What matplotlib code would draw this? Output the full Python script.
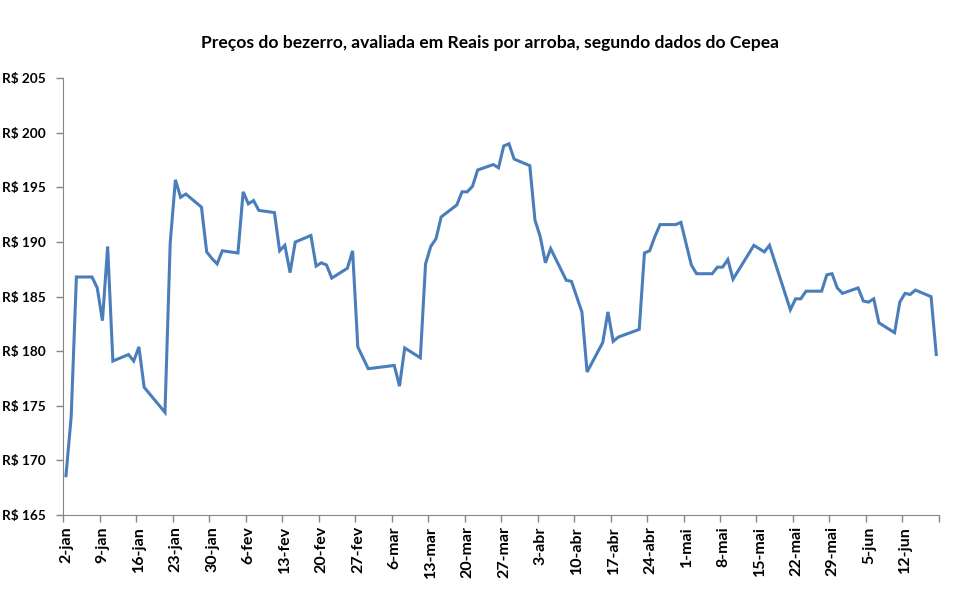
import numpy as np
import pandas as pd
import matplotlib
matplotlib.use("Agg")
import matplotlib.pyplot as plt
import matplotlib.dates as mdates
from matplotlib.transforms import ScaledTranslation

plt.rcParams['font.family'] = ['Lato', 'DejaVu Sans']

# dias corridos a partir de 2-jan
dias = [0, 1, 2, 5, 6, 7, 8, 9, 12, 13, 14, 15, 19, 20, 21, 22, 23, 26, 27, 28,
        29, 30, 33, 34, 35, 36, 37, 40, 41, 42, 43, 44, 47, 48, 49, 50, 51, 54, 55, 56,
        58, 63, 64, 65, 68, 69, 70, 71, 72, 75, 76, 77, 78, 79, 82, 83, 84, 85, 86, 89,
        90, 91, 92, 93, 96, 97, 99, 100, 103, 104, 105, 106, 110, 111, 112, 113, 114, 117, 118, 120,
        121, 124, 125, 126, 127, 128, 132, 134, 135, 139, 140, 141, 142, 145, 146, 147, 148, 149, 152, 153,
        154, 155, 156, 159, 160, 161, 162, 163, 166, 167]
precos = [168.6, 174.0, 186.8, 186.8, 185.8, 182.8, 189.6, 179.1, 179.7, 179.1, 180.4, 176.7, 174.4, 189.9, 195.7, 194.1, 194.4, 193.2, 189.1, 188.5,
          188.0, 189.2, 189.0, 194.6, 193.5, 193.8, 192.9, 192.7, 189.2, 189.7, 187.2, 190.0, 190.6, 187.8, 188.1, 187.9, 186.7, 187.6, 189.2, 180.4,
          178.4, 178.7, 176.8, 180.3, 179.4, 188.0, 189.6, 190.3, 192.3, 193.4, 194.6, 194.6, 195.1, 196.6, 197.1, 196.8, 198.8, 199.0, 197.6, 197.0,
          192.0, 190.5, 188.1, 189.4, 186.5, 186.4, 183.6, 178.1, 180.8, 183.6, 180.9, 181.3, 182.0, 189.0, 189.2, 190.5, 191.6, 191.6, 191.8, 187.9,
          187.1, 187.1, 187.7, 187.7, 188.4, 186.6, 189.7, 189.1, 189.7, 183.8, 184.8, 184.8, 185.5, 185.5, 187.0, 187.1, 185.8, 185.3, 185.8, 184.6,
          184.5, 184.8, 182.6, 181.7, 184.5, 185.3, 185.2, 185.6, 185.0, 179.7]

inicio = pd.Timestamp("2013-01-02")
fim = pd.Timestamp("2013-06-19")
datas = inicio + pd.to_timedelta(dias, unit="D")
ticks = pd.date_range(inicio, fim, freq="7D")
meses = {1: "jan", 2: "fev", 3: "mar", 4: "abr", 5: "mai", 6: "jun"}
rotulos = [f"{d.day}-{meses[d.month]}" for d in ticks[:-1]] + [""]

fig = plt.figure(figsize=(9.6, 5.93), dpi=100)
ax = fig.add_axes([0.066, 0.1315, 0.912, 0.7365])

# pontos no meio do dia, como no Excel
x = mdates.date2num(datas) + 0.5
ax.plot(x, precos, color="#4A7EBB", linewidth=2.2, solid_joinstyle="miter")

ax.set_xlim(mdates.date2num(inicio), mdates.date2num(fim))
ax.set_ylim(165, 205)
ax.set_yticks(np.arange(165, 206, 5))
ax.set_yticklabels([f"R$ {v}" for v in range(165, 206, 5)], fontweight="bold", fontsize=9.8)
ax.set_xticks(mdates.date2num(ticks))
ax.set_xticklabels(rotulos, rotation=90, fontweight="bold", fontsize=11.5)

for lado in ["top", "right"]:
    ax.spines[lado].set_visible(False)
for lado in ["left", "bottom"]:
    ax.spines[lado].set_color("#868686")
ax.tick_params(axis="both", direction="out", length=5, color="#868686", width=1)
ax.tick_params(axis="y", pad=7.5)
ax.tick_params(axis="x", pad=3)
desloc = ScaledTranslation(3 / 100, 0, fig.dpi_scale_trans)
for lbl in ax.get_xticklabels():
    lbl.set_transform(lbl.get_transform() + desloc)

fig.text(0.51, 0.927, "Preços do bezerro, avaliada em Reais por arroba, segundo dados do Cepea",
         ha="center", va="center", fontsize=12.6, fontweight="bold")

fig.savefig("out.png", dpi=100)
